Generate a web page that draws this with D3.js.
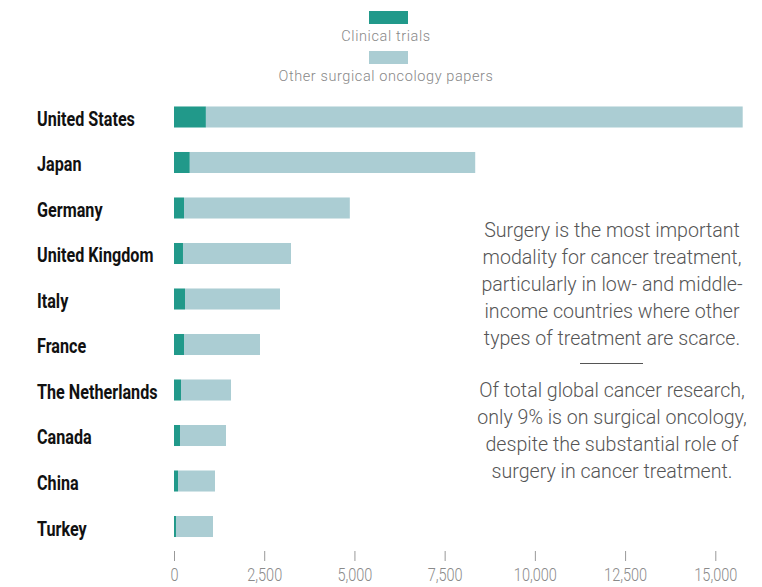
<!DOCTYPE html>
<html>
<head>
<meta charset="utf-8">
<script src="https://cdn.jsdelivr.net/npm/d3@7"></script>
<style>
  html, body { margin: 0; padding: 0; background: #fff; }
  svg { display: block; }
</style>
</head>
<body>
<svg id="chart" width="762" height="587"></svg>
<script>
const countries = ["United States", "Japan", "Germany", "United Kingdom", "Italy", "France", "The Netherlands", "Canada", "China", "Turkey"];
const clinicalTrials = [884, 438, 277, 249, 305, 277, 194, 166, 111, 55];
const otherPapers = [14875, 7909, 4595, 2993, 2632, 2106, 1386, 1275, 1025, 1026];
const tickValues = [0, 2500, 5000, 7500, 10000, 12500, 15000];
const seriesNames = ["Clinical trials", "Other surgical oncology papers"];
const annotationTop = ["Surgery is the most important", "modality for cancer treatment,", "particularly in low- and middle-", "income countries where other", "types of treatment are scarce."];
const annotationBottom = ["Of total global cancer research,", "only 9% is on surgical oncology,", "despite the substantial role of", "surgery in cancer treatment."];

const colors = ["#21998a", "#abcdd3"];
const svg = d3.select("#chart");

const rows = countries.map((c, i) => ({ country: c, clinical: clinicalTrials[i], other: otherPapers[i] }));
const stack = d3.stack().keys(["clinical", "other"])(rows);

const x = d3.scaleLinear().domain([0, 15000]).range([174, 715.3]);
const y = d3.scaleBand().domain(countries).range([82, 561.5]).paddingInner(0.538).paddingOuter(0.538);

// bars
svg.append("g").selectAll("g")
  .data(stack).join("g")
  .attr("fill", (d, i) => colors[i])
  .selectAll("rect")
  .data(d => d).join("rect")
  .attr("x", d => x(d[0]))
  .attr("width", d => x(d[1]) - x(d[0]))
  .attr("y", d => y(d.data.country))
  .attr("height", y.bandwidth());

// country labels (condensed look via horizontal scale)
const labelG = svg.append("g");
const labels = labelG.selectAll("text")
  .data(countries).join("text")
  .attr("x", 0)
  .attr("y", d => y(d) + y.bandwidth() / 2 + 9)
  .attr("font-family", "Roboto, 'Noto Sans', sans-serif")
  .attr("font-weight", "bold")
  .attr("font-size", "19.5px")
  .attr("fill", "#111")
  .text(d => d);
const usW = labels.filter(d => d === "United States").node().getComputedTextLength();
const labelSx = 98 / usW;
labelG.attr("transform", `translate(37,0) scale(${labelSx},1)`);

// x axis
const axis = d3.axisBottom(x).tickValues(tickValues).tickSize(10).tickFormat(d3.format(","));
const ax = svg.append("g").attr("transform", "translate(0,551)").call(axis);
ax.select(".domain").remove();
ax.selectAll(".tick line").attr("stroke", "#999");
const tickTexts = ax.selectAll(".tick text")
  .attr("y", 30).attr("dy", 0)
  .attr("fill", "#8a8a8a")
  .attr("font-family", "Roboto, 'Noto Sans', sans-serif")
  .attr("font-weight", 300)
  .attr("font-size", "18.5px");
const tW = tickTexts.filter(d => d === 2500).node().getComputedTextLength();
tickTexts.attr("transform", `scale(${35 / tW},1)`);

// legend
const legend = svg.append("g");
const legY = [11, 51];
const legTextY = [41, 81];
seriesNames.forEach((name, i) => {
  legend.append("rect").attr("x", 369).attr("y", legY[i]).attr("width", 39).attr("height", 13).attr("fill", colors[i]);
  legend.append("text").attr("x", 386).attr("y", legTextY[i])
    .attr("text-anchor", "middle")
    .attr("font-family", "Roboto, 'Noto Sans', sans-serif")
    .attr("font-weight", 300)
    .attr("font-size", "14.5px")
    .attr("letter-spacing", "0.6px")
    .attr("fill", "#888")
    .text(name);
});

// annotation
const ann = svg.append("g")
  .attr("font-family", "Roboto, 'Noto Sans', sans-serif")
  .attr("font-weight", 300)
  .attr("font-size", "19.6px")
  .attr("fill", "#555")
  .attr("text-anchor", "middle");
annotationTop.forEach((t, i) => {
  ann.append("text").attr("x", 612).attr("y", 237 + i * 27).text(t);
});
svg.append("line").attr("x1", 580).attr("x2", 643).attr("y1", 363.5).attr("y2", 363.5)
  .attr("stroke", "#555").attr("stroke-width", 1);
annotationBottom.forEach((t, i) => {
  ann.append("text").attr("x", 612).attr("y", 397 + i * 27).text(t);
});
</script>
</body>
</html>
